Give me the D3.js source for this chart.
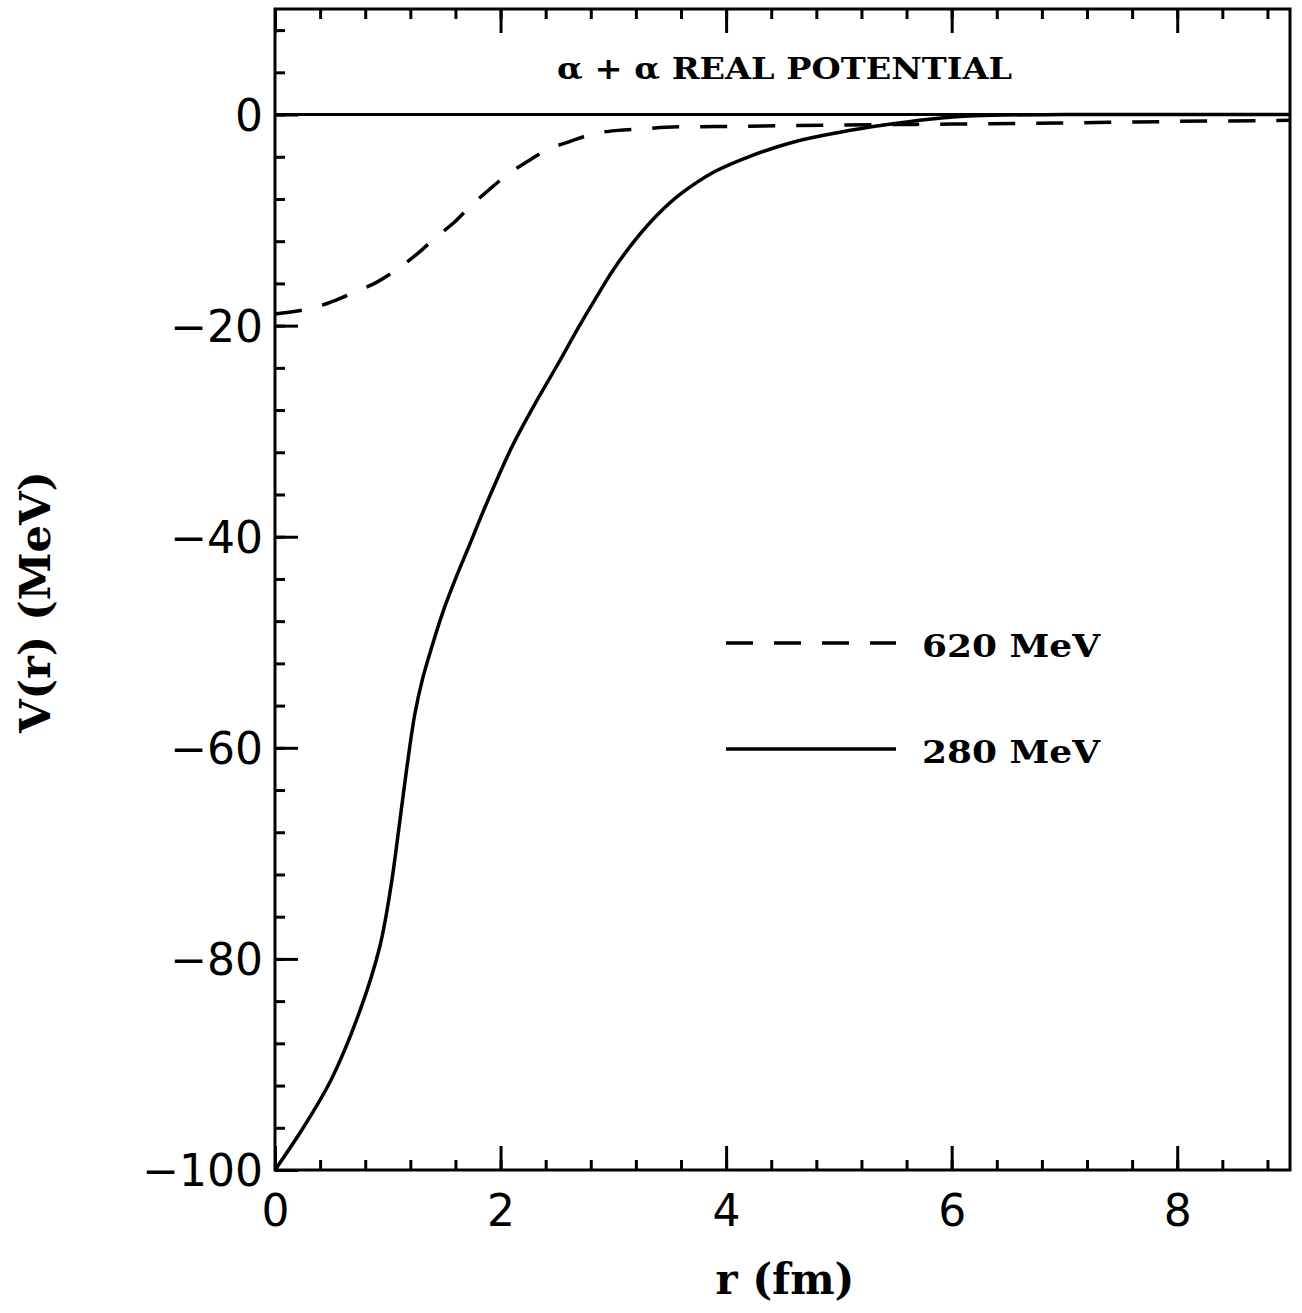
<!DOCTYPE html>
<html>
<head>
<meta charset="utf-8">
<script src="https://cdn.jsdelivr.net/npm/d3@7"></script>
<style>
  body { margin: 0; background: #fff; }
  .tick text { font-family: "DejaVu Sans", sans-serif; }
</style>
</head>
<body>
<div id="chart"></div>
<script>
// 280 MeV (solid)
const r280 = [0, 0.25, 0.5, 0.75, 0.93, 1.03, 1.1, 1.17, 1.24, 1.31, 1.38, 1.49, 1.6, 1.72, 1.87, 2.1, 2.3, 2.5, 2.7, 2.85, 3.0, 3.2, 3.4, 3.6, 3.9, 4.2, 4.6, 5.0, 5.4, 5.8, 6.2, 7, 8, 9];
const v280 = [-100, -96.0, -91.4, -85.0, -78.8, -73.0, -67.5, -61.8, -56.8, -53.4, -50.8, -47.1, -44.0, -40.9, -37.0, -31.5, -27.5, -23.8, -20.0, -17.3, -14.7, -11.8, -9.4, -7.5, -5.4, -4.0, -2.6, -1.7, -1.0, -0.45, -0.12, 0, 0, 0];

// 620 MeV (dashed)
const r620 = [0, 0.31, 0.51, 0.71, 0.9, 1.09, 1.25, 1.43, 1.58, 1.74, 1.89, 2.06, 2.23, 2.42, 2.63, 2.83, 3.04, 3.26, 3.47, 3.91, 5, 6, 7, 8, 9];
const v620 = [-18.9, -18.4, -17.7, -16.8, -15.9, -14.6, -13.3, -11.6, -10.3, -8.6, -7.2, -5.7, -4.5, -3.3, -2.5, -1.8, -1.5, -1.36, -1.2, -1.14, -1.0, -0.9, -0.8, -0.65, -0.55];

const xMajorTicks = [0, 2, 4, 6, 8];
const yMajorTicks = [-100, -80, -60, -40, -20, 0];
const legendLabels = ["620 MeV", "280 MeV"];

const W = 1302, H = 1313;
const margin = { top: 9, right: 12, bottom: 143, left: 275 };
const width = W - margin.left - margin.right,
      height = H - margin.top - margin.bottom;

const svg = d3.select("#chart")
    .append("svg")
    .attr("width", W)
    .attr("height", H)
    .style("background", "#fff");

const g = svg.append("g")
    .attr("transform", "translate(" + margin.left + "," + margin.top + ")");

const x = d3.scaleLinear().domain([0, 9]).range([0, width]);
const y = d3.scaleLinear().domain([-100, 10]).range([height, 0]);

const xMinor = d3.range(0, 23).map(i => +(i * 0.4).toFixed(1));
const yMinor = d3.range(-25, 3).map(i => i * 4);

function styleAxis(sel) {
    sel.select(".domain").remove();
    sel.selectAll(".tick line").attr("stroke", "#000").attr("stroke-width", 3);
    sel.selectAll(".tick text").attr("fill", "#000");
}

// bottom axis (ticks point inward)
g.append("g")
    .attr("transform", "translate(0," + height + ")")
    .call(d3.axisBottom(x).tickValues(xMinor).tickSize(-10).tickFormat(""))
    .call(styleAxis);
g.append("g")
    .attr("transform", "translate(0," + height + ")")
    .call(d3.axisBottom(x).tickValues(xMajorTicks).tickSize(-24).tickPadding(0).tickFormat(d3.format("d")))
    .call(styleAxis)
    .call(s => s.selectAll(".tick text")
        .attr("y", 56)
        .attr("dy", null)
        .style("font-size", "44px"));

// top axis
g.append("g")
    .call(d3.axisTop(x).tickValues(xMinor).tickSize(-10).tickFormat(""))
    .call(styleAxis);
g.append("g")
    .call(d3.axisTop(x).tickValues(xMajorTicks).tickSize(-24).tickFormat(""))
    .call(styleAxis);

// left axis
g.append("g")
    .call(d3.axisLeft(y).tickValues(yMinor).tickSize(-10).tickFormat(""))
    .call(styleAxis);
g.append("g")
    .call(d3.axisLeft(y).tickValues(yMajorTicks).tickSize(-23).tickFormat(d3.format("d")))
    .call(styleAxis)
    .call(s => s.selectAll(".tick text")
        .attr("x", -12)
        .attr("dy", "0.36em")
        .style("font-size", "44px"));

// frame
g.append("rect")
    .attr("width", width)
    .attr("height", height)
    .attr("fill", "none")
    .attr("stroke", "#000")
    .attr("stroke-width", 3);

// zero line
g.append("line")
    .attr("x1", 0).attr("x2", width)
    .attr("y1", y(0)).attr("y2", y(0))
    .attr("stroke", "#000")
    .attr("stroke-width", 3);

const line = d3.line()
    .x(d => x(d[0]))
    .y(d => y(d[1]))
    .curve(d3.curveCatmullRom.alpha(0.5));

g.append("path")
    .datum(r280.map((r, i) => [r, v280[i]]))
    .attr("d", line)
    .attr("fill", "none")
    .attr("stroke", "#000")
    .attr("stroke-width", 3.5);

g.append("path")
    .datum(r620.map((r, i) => [r, v620[i]]))
    .attr("d", line)
    .attr("fill", "none")
    .attr("stroke", "#000")
    .attr("stroke-width", 3.5)
    .attr("stroke-dasharray", "27,21");

// title
svg.append("text")
    .attr("x", 557)
    .attr("y", 79)
    .attr("textLength", 455)
    .attr("lengthAdjust", "spacingAndGlyphs")
    .style("font-family", "'DejaVu Serif', serif")
    .style("font-weight", "bold")
    .style("font-size", "29px")
    .text("α + α REAL POTENTIAL");

// legend
const legY = [643, 749];
legendLabels.forEach((lab, i) => {
    svg.append("line")
        .attr("x1", 726).attr("x2", 896)
        .attr("y1", legY[i]).attr("y2", legY[i])
        .attr("stroke", "#000")
        .attr("stroke-width", 3.5)
        .attr("stroke-dasharray", i === 0 ? "27,21" : null);
    svg.append("text")
        .attr("x", 922)
        .attr("y", legY[i] + 14)
        .attr("textLength", 178)
        .attr("lengthAdjust", "spacingAndGlyphs")
        .style("font-family", "'DejaVu Serif', serif")
        .style("font-weight", "bold")
        .style("font-size", "32px")
        .text(lab);
});

// axis titles
svg.append("text")
    .attr("x", 785)
    .attr("y", 1294)
    .attr("text-anchor", "middle")
    .style("font-family", "'DejaVu Serif', serif")
    .style("font-weight", "bold")
    .style("font-size", "42px")
    .text("r (fm)");

svg.append("text")
    .attr("transform", "translate(50,602) rotate(-90)")
    .attr("text-anchor", "middle")
    .attr("textLength", 262)
    .attr("lengthAdjust", "spacingAndGlyphs")
    .style("font-family", "'DejaVu Serif', serif")
    .style("font-weight", "bold")
    .style("font-size", "42px")
    .text("V(r) (MeV)");
</script>
</body>
</html>
